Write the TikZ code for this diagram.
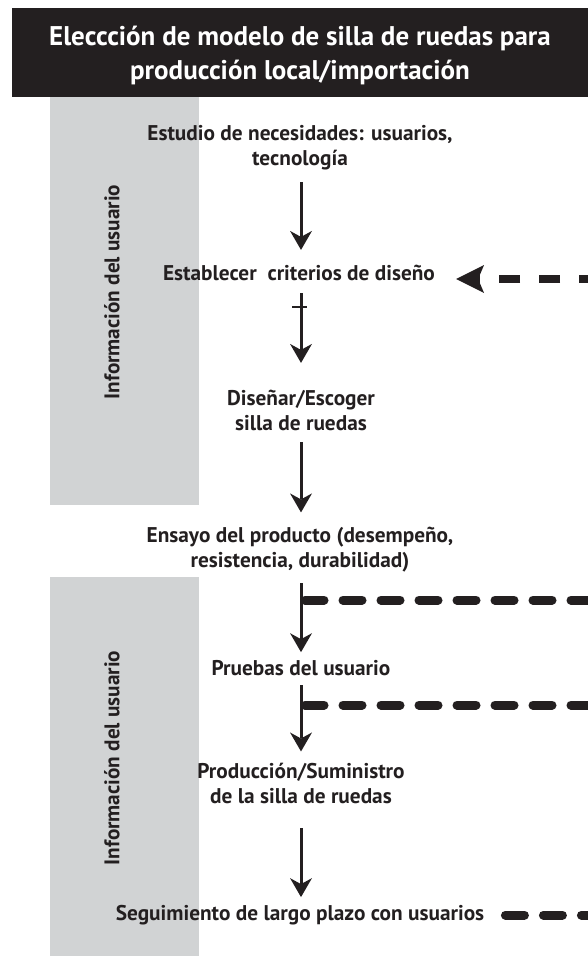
\documentclass[tikz,border=0pt]{standalone}
\usepackage{fontspec}
\setmainfont{PT Sans}
\usetikzlibrary{arrows.meta}
\definecolor{ink}{HTML}{231F20}
\definecolor{band}{HTML}{D1D3D4}
\begin{document}
\begin{tikzpicture}[x=1pt,y=-1pt,
  lab/.style={font=\bfseries\fontsize{21.3}{25}\selectfont, text=ink, align=center, inner sep=0pt, anchor=base, text depth=6pt},
  side/.style={font=\bfseries\fontsize{21.2}{25}\selectfont, text=ink, inner sep=0pt, rotate=90},
  flow/.style={draw=ink, line width=3pt, -{Stealth[length=19pt,width=22pt,inset=6pt,line width=0pt]}},
  fbarrow/.style={draw=ink, line width=8pt, dash pattern=on 21pt off 19pt, -{Stealth[length=28pt,width=28pt,inset=6pt,line width=0pt]}},
  fbline/.style={draw=ink, line width=9pt, line cap=round, dash pattern=on 19pt off 19pt}
]
\useasboundingbox (0,0) rectangle (588,958);
% title bar
\fill[ink] (12,8) rectangle (588,97);
\node[font=\bfseries\fontsize{27}{35}\selectfont, text=white, align=center, inner sep=0pt, anchor=base] (title) at (300,80)
  {Eleccción de modelo de silla de ruedas para\\producción local/importación};
% grey bands
\fill[band] (50,97) rectangle (199,505);
\fill[band] (50,577) rectangle (199,956);
\node[side] (u1) at (112,292) {Información del usuario};
\node[side] (u2) at (112,758) {Información del usuario};
% steps
\node[lab] (est) at (300,165) {Estudio de necesidades: usuarios,\\tecnología};
\node[lab] (crit) at (299,280) {Establecer\ \ criterios de diseño};
\node[lab] (dis) at (301,430) {Diseñar/Escoger\\silla de ruedas};
\node[lab] (ens) at (300,567) {Ensayo del producto (desempeño,\\resistencia, durabilidad)};
\node[lab] (pru) at (301,675) {Pruebas del usuario};
\node[lab] (prod) at (301,803) {Producción/Suministro\\de la silla de ruedas};
\node[lab] (seg) at (300,920) {Seguimiento de largo plazo con usuarios};
% free ends of the feedback lines
\coordinate (fb1) at (600,279);
\coordinate (b1) at (305,600);
\coordinate (b1e) at (600,600);
\coordinate (b2) at (305,705);
\coordinate (b2e) at (600,705);
\coordinate (fb3) at (600,915);
\coordinate (t1) at (292,307);
\coordinate (t2) at (307,307);
% connectors
\draw[flow, shorten <=11pt, shorten >=14.5pt] (est.south -| 301,0) -- (crit.north -| 301,0);
\draw[flow, shorten <=7pt, shorten >=26.5pt] (crit.south -| 301,0) -- (dis.north -| 301,0);
\draw[flow, shorten <=6pt, shorten >=14pt] (dis.south -| 301,0) -- (ens.north -| 301,0);
\draw[flow, shorten <=10pt, shorten >=7.5pt] (ens.south -| 301,0) -- (pru.north -| 301,0);
\draw[flow, shorten <=4pt, shorten >=11pt] (pru.south -| 301,0) -- (prod.north -| 301,0);
\draw[flow, shorten <=19pt, shorten >=7.5pt] (prod.south -| 301,0) -- (seg.north -| 301,0);
\draw[draw=ink, line width=1.6pt] (t1) -- (t2);
% feedback lines
\draw[fbarrow, shorten >=21pt] (fb1) -- (fb1 -| crit.east);
\draw[fbline] (b1) -- (b1e);
\draw[fbline] (b2) -- (b2e);
\draw[fbline] ([xshift=21pt]seg.east |- fb3) -- (fb3);
\end{tikzpicture}
\end{document}
